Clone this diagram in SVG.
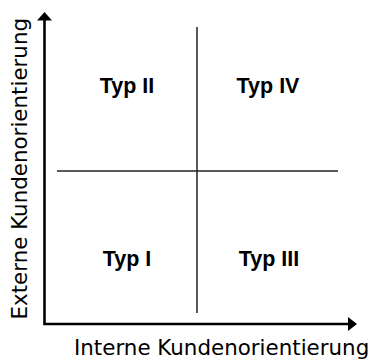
<svg xmlns="http://www.w3.org/2000/svg" width="371" height="360" viewBox="0 0 371 360">
  <style>
    .axis { stroke: #000; stroke-width: 2.6; fill: none; }
    .divider { stroke: #222; stroke-width: 1.5; fill: none; }
    .quad { font-family: "Liberation Sans", Arial, sans-serif; font-weight: bold; font-size: 21.5px; fill: #000; text-anchor: middle; }
    .label { font-family: "DejaVu Sans", sans-serif; font-size: 21.4px; fill: #000; }
  </style>
  <rect width="371" height="360" fill="#fff"/>

  <!-- axes and quadrant dividers -->
  <g id="connectors">
    <path class="axis" d="M44.5 20 V324 H348.5"/>
    <polygon points="44.5,12 37,20.5 52,20.5" fill="#000"/>
    <polygon points="357,324 348,317 348,331" fill="#000"/>
    <line class="divider" x1="197" y1="27" x2="197" y2="313"/>
    <line class="divider" x1="57" y1="171" x2="338" y2="171"/>
  </g>

  <g id="typ-ii"><text class="quad" x="127" y="92.7">Typ II</text></g>
  <g id="typ-iv"><text class="quad" x="268" y="92.7">Typ IV</text></g>
  <g id="typ-i"><text class="quad" x="127" y="266">Typ I</text></g>
  <g id="typ-iii"><text class="quad" x="269" y="266">Typ III</text></g>

  <g id="x-label"><text class="label" x="74" y="355">Interne Kundenorientierung</text></g>
  <g id="y-label"><text class="label" transform="translate(27 319.5) rotate(-90)">Externe Kundenorientierung</text></g>
</svg>
